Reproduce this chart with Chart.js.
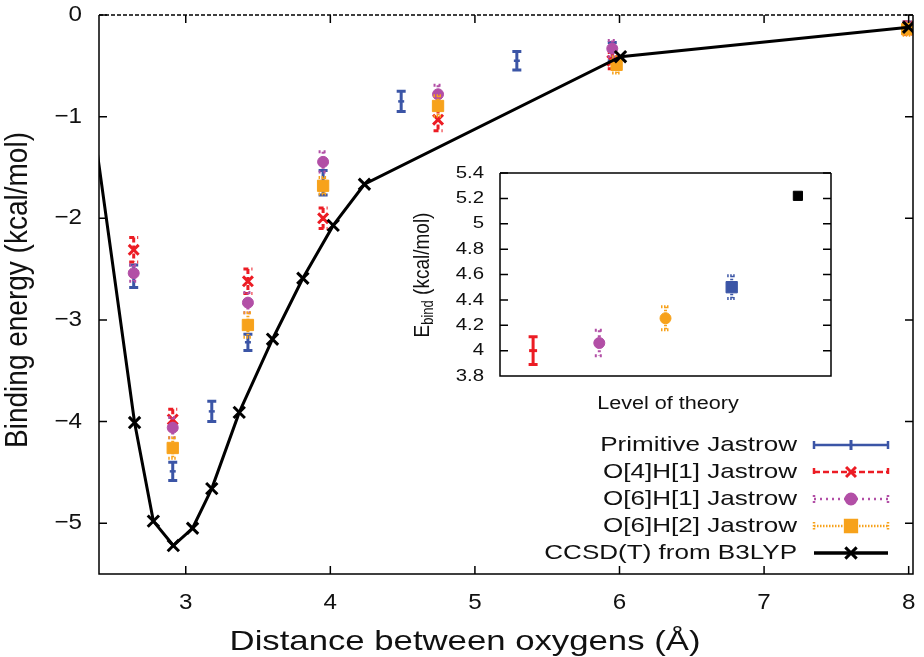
<!DOCTYPE html>
<html>
<head>
<meta charset="utf-8">
<script src="https://cdn.jsdelivr.net/npm/chart.js@4.4.0/dist/chart.umd.min.js"></script>
<style>
  body { margin: 0; background: #fff; }
  #wrap { position: relative; width: 924px; height: 657px; }
  #main { position: absolute; left: 0; top: 0; }
  #inset { position: absolute; left: 400px; top: 160px; }
</style>
</head>
<body>
<div id="wrap">
  <canvas id="main" width="924" height="657"></canvas>
  <canvas id="inset" width="440" height="260"></canvas>
</div>
<script>
// main panel: binding energy vs O-O distance
const primDist = [2.64, 2.91, 3.18, 3.43, 3.95, 4.49, 5.29, 5.95, 7.99];
const primE    = [-2.57, -4.49, -3.90, -3.22, -1.65, -0.85, -0.45, -0.36, -0.12];
const primErr  = [0.11, 0.09, 0.10, 0.08, 0.12, 0.10, 0.09, 0.09, 0.05];

const o4h1Dist = [2.64, 2.91, 3.43, 3.95, 4.745, 5.95, 7.99];
const o4h1E    = [-2.31, -3.98, -2.62, -2.00, -1.03, -0.45, -0.13];
const o4h1Err  = [0.12, 0.10, 0.12, 0.10, 0.11, 0.08, 0.06];

const o6h1Dist = [2.64, 2.91, 3.43, 3.95, 4.745, 5.95, 7.99];
const o6h1E    = [-2.54, -4.06, -2.83, -1.445, -0.78, -0.33, -0.12];
const o6h1Err  = [0.08, 0.10, 0.10, 0.10, 0.09, 0.08, 0.05];

const o6h2Dist = [2.91, 3.43, 3.95, 4.745, 5.98, 7.99];
const o6h2E    = [-4.26, -3.05, -1.68, -0.895, -0.49, -0.14];
const o6h2Err  = [0.10, 0.12, 0.08, 0.10, 0.08, 0.06];

const ccsdDist = [2.30, 2.646, 2.776, 2.914, 3.047, 3.18, 3.37, 3.60, 3.81, 4.02, 4.236, 6.007, 8.0];
const ccsdE    = [-0.45, -4.01, -4.98, -5.22, -5.05, -4.66, -3.91, -3.19, -2.59, -2.07, -1.665, -0.41, -0.12];

const distTicks = [3, 4, 5, 6, 7, 8];
const energyTicks = [-5, -4, -3, -2, -1, 0];

// inset: binding energy at the minimum for each level of theory
const levels   = [1, 2, 3, 4, 5];
const levelE   = [4.00, 4.06, 4.255, 4.50, 5.22];
const levelErr = [0.11, 0.10, 0.09, 0.09, 0];
const levelTicks = [3.8, 4, 4.2, 4.4, 4.6, 4.8, 5, 5.2, 5.4];

const BLUE = '#3b55a6', RED = '#ec1c24', MAG = '#b24fa6', ORA = '#f7a21b';
const FONT = '"Liberation Sans", Arial, sans-serif';

const pts = (xs, ys) => xs.map((x, i) => ({ x: x, y: ys[i] }));

function stretchText(ctx, text, x, y, size, align, sx, rot) {
  ctx.save();
  ctx.translate(x, y);
  if (rot) { ctx.rotate(rot); ctx.scale(1, sx); } else { ctx.scale(sx, 1); }
  ctx.font = size + 'px ' + FONT;
  ctx.fillStyle = '#111';
  ctx.textAlign = align;
  ctx.textBaseline = 'middle';
  ctx.fillText(text, 0, 0);
  ctx.restore();
}

const errorBars = {
  id: 'errorBars',
  beforeDatasetDraw(chart, args) {
    const ds = chart.data.datasets[args.index];
    if (!ds.errors) return;
    const ctx = chart.ctx, xs = chart.scales.x, ys = chart.scales.y;
    ctx.save();
    ctx.lineWidth = 3;
    ds.data.forEach((p, j) => {
      const e = ds.errors[j];
      if (!e) return;
      ctx.strokeStyle = Array.isArray(ds.errColor) ? ds.errColor[j] : ds.errColor;
      ctx.setLineDash(Array.isArray(ds.errDash[0]) ? ds.errDash[j] : ds.errDash);
      const px = xs.getPixelForValue(p.x);
      const top = ys.getPixelForValue(p.y + e), bot = ys.getPixelForValue(p.y - e);
      ctx.beginPath();
      ctx.moveTo(px, top); ctx.lineTo(px, bot);
      ctx.moveTo(px - 4.5, top); ctx.lineTo(px + 4.5, top);
      ctx.moveTo(px - 4.5, bot); ctx.lineTo(px + 4.5, bot);
      ctx.stroke();
    });
    ctx.restore();
  }
};

// gnuplot-like box: inward mirrored ticks and stretched labels
function frame(cfg) {
  return {
    id: 'frame',
    afterDatasetsDraw(chart) {
      const ctx = chart.ctx, a = chart.chartArea, x = chart.scales.x, y = chart.scales.y;
      ctx.save();
      ctx.strokeStyle = '#000';
      ctx.lineWidth = 1.5;
      ctx.beginPath();
      cfg.xTicks.forEach(v => {
        const px = x.getPixelForValue(v);
        ctx.moveTo(px, a.bottom); ctx.lineTo(px, a.bottom - cfg.tick);
        ctx.moveTo(px, a.top); ctx.lineTo(px, a.top + cfg.tick);
      });
      cfg.yTicks.forEach(v => {
        const py = y.getPixelForValue(v);
        ctx.moveTo(a.left, py); ctx.lineTo(a.left + cfg.tick, py);
        ctx.moveTo(a.right, py); ctx.lineTo(a.right - cfg.tick, py);
      });
      ctx.moveTo(a.left, a.top); ctx.lineTo(a.left, a.bottom);
      ctx.lineTo(a.right, a.bottom); ctx.lineTo(a.right, a.top);
      ctx.stroke();
      if (cfg.dashTop) ctx.setLineDash([4, 2]);
      ctx.beginPath(); ctx.moveTo(a.left, a.top); ctx.lineTo(a.right, a.top); ctx.stroke();
      ctx.restore();

      const fmt = v => (Number.isInteger(v) ? String(v) : v.toFixed(1)).replace('-', '\u2212');
      cfg.xTicks.forEach(v => stretchText(ctx, fmt(v), x.getPixelForValue(v), a.bottom + cfg.xLabelGap, cfg.tickSize, 'center', cfg.sx));
      cfg.yTicks.forEach(v => stretchText(ctx, fmt(v), a.left - cfg.yLabelGap, y.getPixelForValue(v), cfg.tickSize, 'right', cfg.sx));
      if (cfg.draw) cfg.draw(ctx, a);
    }
  };
}

const legendRows = [
  { text: 'Primitive Jastrow', color: BLUE, dash: [], mark: 'line', r: 5, rot: 90, caps: true },
  { text: 'O[4]H[1] Jastrow', color: RED, dash: [6, 3], mark: 'crossRot', r: 7, caps: true },
  { text: 'O[6]H[1] Jastrow', color: MAG, dash: [2, 4], mark: 'circle', r: 5, caps: true },
  { text: 'O[6]H[2] Jastrow', color: ORA, dash: [1.5, 1.5], mark: 'rect', r: 8, caps: true },
  { text: 'CCSD(T) from B3LYP', color: '#000', dash: [], mark: 'crossRot', r: 8, caps: false }
];

function drawMainLabels(ctx) {
  stretchText(ctx, 'Distance between oxygens (\u00c5)', 465, 642, 28, 'center', 1.24);
  stretchText(ctx, 'Binding energy (kcal/mol)', 18, 290, 28, 'center', 1.15, -Math.PI / 2);
  legendRows.forEach((row, i) => {
    const yy = 445 + i * 27;
    stretchText(ctx, row.text, 797, yy, 21, 'right', 1.24);
    ctx.save();
    ctx.strokeStyle = row.color;
    ctx.fillStyle = row.color;
    ctx.lineWidth = row.caps ? 2.5 : 3.5;
    ctx.setLineDash(row.dash);
    ctx.beginPath();
    ctx.moveTo(814, yy); ctx.lineTo(888, yy);
    if (row.caps) {
      ctx.moveTo(814, yy - 4); ctx.lineTo(814, yy + 4);
      ctx.moveTo(888, yy - 4); ctx.lineTo(888, yy + 4);
    }
    ctx.stroke();
    ctx.setLineDash([]);
    ctx.lineWidth = 3;
    Chart.helpers.drawPoint(ctx, { pointStyle: row.mark, radius: row.r, rotation: row.rot || 0, borderWidth: 3 }, 851, yy);
    ctx.restore();
  });
}

new Chart(document.getElementById('main'), {
  type: 'scatter',
  data: {
    datasets: [
      { label: 'CCSD(T) from B3LYP', data: pts(ccsdDist, ccsdE), showLine: true, borderColor: '#000', borderWidth: 3,
        pointStyle: 'crossRot', pointRadius: 8, pointBorderWidth: 3, pointBorderColor: '#000', order: 0 },
      { label: 'O[6]H[2] Jastrow', data: pts(o6h2Dist, o6h2E), errors: o6h2Err, errColor: ORA, errDash: [1.5, 1.5],
        pointStyle: 'rect', pointRadius: 8, backgroundColor: ORA, borderColor: ORA, order: 1 },
      { label: 'O[6]H[1] Jastrow', data: pts(o6h1Dist, o6h1E), errors: o6h1Err, errColor: MAG, errDash: [2, 3],
        pointStyle: 'circle', pointRadius: 5.5, backgroundColor: MAG, borderColor: MAG, order: 2 },
      { label: 'O[4]H[1] Jastrow', data: pts(o4h1Dist, o4h1E), errors: o4h1Err, errColor: RED, errDash: [5, 3],
        pointStyle: 'crossRot', pointRadius: 7, pointBorderWidth: 3, backgroundColor: RED, borderColor: RED, order: 3 },
      { label: 'Primitive Jastrow', data: pts(primDist, primE), errors: primErr, errColor: BLUE, errDash: [],
        pointStyle: 'line', pointRadius: 3, pointBorderWidth: 2.5, backgroundColor: BLUE, borderColor: BLUE, order: 4 }
    ]
  },
  options: {
    responsive: false,
    animation: false,
    devicePixelRatio: 1,
    layout: { padding: { top: 15, right: 7, left: 0, bottom: 0 } },
    plugins: { legend: { display: false }, tooltip: { enabled: false } },
    scales: {
      x: {
        type: 'linear', min: 2.4, max: 8.03,
        grid: { display: false }, border: { display: false }, ticks: { display: false },
        afterFit: s => { s.height = 83; }
      },
      y: {
        min: -5.5, max: 0,
        grid: { display: false }, border: { display: false }, ticks: { display: false },
        afterFit: s => { s.width = 99; }
      }
    }
  },
  plugins: [errorBars, frame({ xTicks: distTicks, yTicks: energyTicks, tick: 8, dashTop: true,
    tickSize: 22, sx: 1.1, xLabelGap: 29, yLabelGap: 17, draw: drawMainLabels })]
});

function drawInsetLabels(ctx) {
  stretchText(ctx, 'Level of theory', 268, 244, 18, 'center', 1.2);
  // E_bind (kcal/mol), rotated, with subscript
  ctx.save();
  ctx.translate(23, 115);
  ctx.rotate(-Math.PI / 2);
  ctx.scale(1, 1.2);
  ctx.fillStyle = '#111';
  ctx.textBaseline = 'middle';
  ctx.textAlign = 'left';
  const big = '19px ' + FONT, small = '13px ' + FONT;
  ctx.font = big; const wE = ctx.measureText('E').width, wRest = ctx.measureText(' (kcal/mol)').width;
  ctx.font = small; const wSub = ctx.measureText('bind').width;
  let x0 = -(wE + wSub + wRest) / 2;
  ctx.font = big; ctx.fillText('E', x0, 0);
  ctx.font = small; ctx.fillText('bind', x0 + wE, 5);
  ctx.font = big; ctx.fillText(' (kcal/mol)', x0 + wE + wSub, 0);
  ctx.restore();
}

new Chart(document.getElementById('inset'), {
  type: 'scatter',
  data: {
    datasets: [{
      data: pts(levels, levelE),
      errors: levelErr,
      errColor: [RED, MAG, ORA, BLUE, '#000'],
      errDash: [[], [2, 3], [1.5, 1.5], [1.5, 1.5], []],
      pointStyle: ['line', 'circle', 'circle', 'rect', 'rect'],
      pointRadius: [4, 5.5, 5.5, 8, 6.5],
      pointBorderWidth: [3, 1, 1, 1, 1],
      backgroundColor: [RED, MAG, ORA, BLUE, '#000'],
      borderColor: [RED, MAG, ORA, BLUE, '#000']
    }]
  },
  options: {
    responsive: false,
    animation: false,
    devicePixelRatio: 1,
    layout: { padding: { top: 13, right: 5, left: 0, bottom: 0 } },
    plugins: { legend: { display: false }, tooltip: { enabled: false } },
    scales: {
      x: {
        type: 'linear', min: 0.5, max: 5.5,
        grid: { display: false }, border: { display: false }, ticks: { display: false },
        afterFit: s => { s.height = 44; }
      },
      y: {
        min: 3.8, max: 5.4,
        grid: { display: false }, border: { display: false }, ticks: { display: false },
        afterFit: s => { s.width = 100; }
      }
    }
  },
  plugins: [errorBars, frame({ xTicks: [], yTicks: levelTicks, tick: 8, dashTop: false,
    tickSize: 17, sx: 1.2, xLabelGap: 0, yLabelGap: 16, draw: drawInsetLabels })]
});
</script>
</body>
</html>
